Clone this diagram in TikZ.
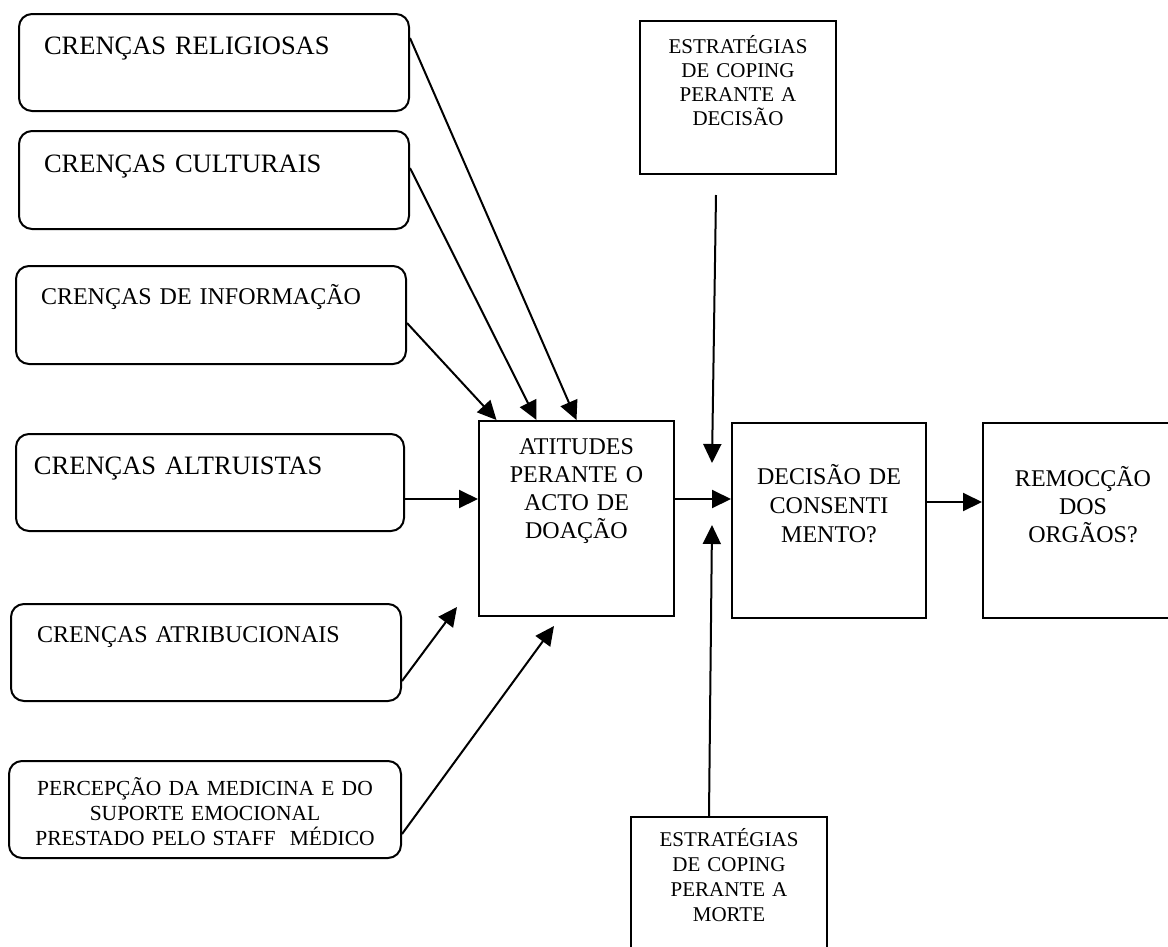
\documentclass[tikz,border=0pt]{standalone}
\usepackage{fontspec}
\setmainfont{Liberation Serif}
\usetikzlibrary{arrows.meta}

\begin{document}
\begin{tikzpicture}[x=1pt,y=-1pt,
  crenca/.style={draw, line width=2pt, rounded corners=13pt, inner ysep=0pt, anchor=north west, align=left},
  bloco/.style={draw, line width=2pt, inner ysep=0pt, inner xsep=5pt, anchor=north west, align=center},
  seta/.style={line width=2pt, -{Triangle[length=19pt,width=18pt]}}]

\useasboundingbox (0,0) rectangle (1168,946);

% crencas
\node[crenca, inner xsep=25pt, text width=340pt, text height=40.8pt, text depth=56.2pt, font=\fontsize{26.5}{30}\selectfont] (rel) at (18,13) {CRENÇAS RELIGIOSAS};
\node[crenca, inner xsep=25pt, text width=340pt, text height=41.8pt, text depth=56.2pt, font=\fontsize{26.5}{30}\selectfont] (cul) at (18,130) {CRENÇAS CULTURAIS};
\node[crenca, inner xsep=25pt, text width=340pt, text height=38pt, text depth=60pt, font=\fontsize{24}{28}\selectfont] (inf) at (15,265) {CRENÇAS DE INFORMAÇÃO};
\node[crenca, inner xsep=18pt, text width=352pt, text height=40.8pt, text depth=56.2pt, font=\fontsize{26.5}{30}\selectfont] (alt) at (15,433) {CRENÇAS ALTRUISTAS};
\node[crenca, inner xsep=26pt, text width=338pt, text height=38pt, text depth=59pt, font=\fontsize{24}{28}\selectfont] (atr) at (10,603) {CRENÇAS ATRIBUCIONAIS};
\node[crenca, align=center, inner xsep=10pt, text width=372pt, text height=34pt, text depth=63pt, font=\fontsize{21.5}{25}\selectfont] (per) at (8,760)
  {PERCEPÇÃO DA MEDICINA E DO\\SUPORTE EMOCIONAL\\PRESTADO PELO STAFF~~MÉDICO};

% cadeia central
\node[bloco, text width=185pt, text height=33pt, text depth=162pt, font=\fontsize{24}{28}\selectfont] (ati) at (478,420) {ATITUDES\\PERANTE O\\ACTO DE\\DOAÇÃO};
\node[bloco, text width=184pt, text height=61pt, text depth=134pt, font=\fontsize{24}{29}\selectfont] (dec) at (731,422) {DECISÃO DE\\CONSENTI\\MENTO?};
\node[bloco, text width=190pt, text height=63pt, text depth=132pt, font=\fontsize{24}{28}\selectfont] (rem) at (982,422) {REMOCÇÃO\\DOS\\ORGÃOS?};

% coping
\node[bloco, text width=186pt, text height=32pt, text depth=121pt, font=\fontsize{21}{24.3}\selectfont] (copdec) at (639,20) {ESTRATÉGIAS\\DE COPING\\PERANTE A\\DECISÃO};
\node[bloco, text width=186pt, text height=29pt, text depth=120pt, font=\fontsize{21}{25.3}\selectfont] (copmor) at (630,816) {ESTRATÉGIAS\\DE COPING\\PERANTE A\\MORTE};

\coordinate (atr-fim) at (457,607);
\coordinate (per-fim) at (554,626);
\coordinate (copdec-ini) at (716,195);
\coordinate (copdec-fim) at (712,463);
\coordinate (copmor-fim) at (712,525);

\draw[seta] ([yshift=24.5pt]rel.east) -- (ati.north);
\draw[seta] ([yshift=12pt]cul.east) -- ([xshift=-40pt]ati.north);
\draw[seta] ([yshift=-8pt]inf.east) -- ([xshift=-80pt]ati.north);
\draw[seta] ([yshift=-16.5pt]alt.east) -- ([yshift=19.5pt]ati.west);
\draw[seta] ([yshift=-28.5pt]atr.east) -- (atr-fim);
\draw[seta] ([yshift=-24.5pt]per.east) -- (per-fim);

\draw[seta] ([yshift=19.5pt]ati.east) -- ([yshift=21.5pt]dec.west);
\draw[seta] ([yshift=18.5pt]dec.east) -- ([yshift=18.5pt]rem.west);
\draw[seta] (copdec-ini) -- (copdec-fim);
\draw[seta] ([xshift=-20pt]copmor.north) -- (copmor-fim);

\end{tikzpicture}
\end{document}
